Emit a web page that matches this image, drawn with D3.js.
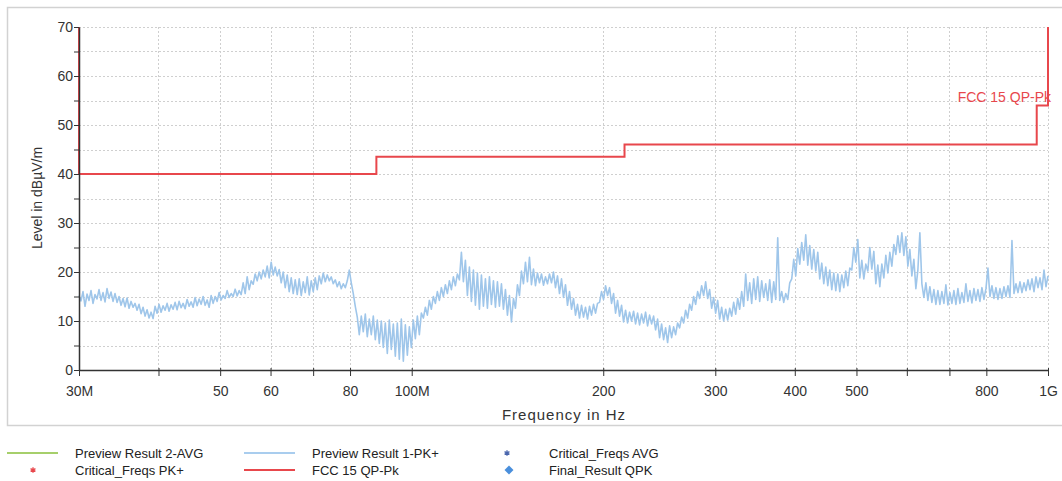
<!DOCTYPE html>
<html>
<head>
<meta charset="utf-8">
<script src="https://cdn.jsdelivr.net/npm/d3@7"></script>
<style>
  html, body { margin: 0; padding: 0; background: #fff; }
  svg { display: block; font-family: "Liberation Sans", Arial, sans-serif; }
</style>
</head>
<body>
<svg id="chart" width="1062" height="481"></svg>
<script>
// ---------------- DATA ----------------
const sweepStartHz = 30e6;
const sweepStopHz = 1e9;

// Preview Result 1-PK+ (dBµV/m), sweep points evenly spaced on the log frequency axis
const previewPkLevels = [
  15.2,14.1,16.0,13.0,15.5,14.2,16.2,13.6,15.4,14.5,
  16.4,14.2,15.8,13.9,16.6,14.6,15.9,14.0,15.6,13.8,
  15.0,13.2,14.6,12.9,14.7,12.6,14.0,12.8,13.6,12.2,
  13.4,11.5,12.8,11.0,12.3,10.6,11.8,10.5,13.0,11.6,
  13.4,11.8,13.1,12.2,13.6,12.0,13.3,12.4,13.8,12.3,
  14.0,12.7,13.6,12.5,14.4,13.0,13.9,12.8,14.8,13.1,
  14.5,13.4,15.0,13.2,14.3,12.8,15.2,13.6,15.0,14.0,
  15.8,14.3,15.2,14.6,16.2,14.8,15.6,15.0,16.5,15.1,
  16.2,15.4,17.8,15.6,19.0,16.4,18.2,17.5,19.6,18.2,
  20.0,18.6,20.4,19.0,21.2,18.8,22.0,19.4,21.0,19.2,
  20.5,17.8,20.0,16.8,19.4,16.0,18.8,15.6,18.4,15.4,
  18.6,15.2,18.0,15.8,19.0,15.3,18.2,16.0,18.8,16.4,
  19.2,17.6,19.8,18.0,19.4,18.2,19.0,17.6,18.4,17.0,
  18.0,16.6,17.6,16.8,18.2,20.4,17.8,15.6,13.0,10.8,
  7.2,11.0,7.8,11.4,6.8,10.4,7.2,11.0,6.2,10.2,
  5.4,10.0,4.6,9.6,3.4,10.2,4.2,9.4,2.8,9.6,
  2.2,10.4,1.8,9.2,3.0,8.8,4.6,10.2,6.4,11.0,
  7.2,11.6,10.6,12.8,11.2,14.2,12.4,15.0,13.6,16.0,
  14.2,16.8,15.0,17.4,15.6,18.2,16.4,19.0,17.2,19.6,
  18.4,24.0,18.0,22.4,15.2,21.0,14.0,20.4,13.2,19.8,
  12.4,19.4,13.0,18.6,12.6,19.0,13.4,18.2,12.8,18.0,
  13.0,17.6,12.4,16.4,11.2,15.2,9.8,14.6,12.6,17.4,
  15.2,20.2,17.6,22.0,18.0,23.0,17.4,20.6,17.2,19.8,
  17.8,19.6,17.3,19.0,17.6,19.6,17.8,20.0,16.8,19.2,
  15.6,18.6,14.8,17.4,13.2,16.0,12.4,14.6,11.2,13.4,
  10.6,13.2,10.8,12.8,10.4,13.0,11.2,13.4,11.6,13.6,
  13.8,16.0,14.4,17.2,15.2,16.8,13.6,15.6,11.6,14.2,
  11.0,13.2,9.8,12.2,9.6,11.8,10.0,12.0,9.4,11.6,
  9.2,11.4,9.6,11.8,9.0,11.2,9.4,11.0,8.2,10.4,
  6.6,9.4,6.2,8.6,5.6,9.0,6.6,8.8,7.2,9.6,
  8.6,10.8,9.6,12.2,10.6,13.4,12.2,15.0,13.4,16.0,
  14.6,17.2,15.2,18.0,14.6,16.4,12.6,14.8,11.6,14.2,
  10.4,12.8,10.0,12.4,10.2,12.6,11.0,13.8,11.4,14.6,
  12.4,16.0,13.0,19.6,14.2,17.8,13.6,18.6,14.4,19.0,
  14.0,18.2,14.8,17.6,14.2,18.4,13.8,18.0,14.4,27.0,
  14.2,16.0,13.8,15.6,14.4,17.8,18.6,22.6,19.2,24.8,
  21.6,26.0,22.4,27.6,21.4,25.4,20.6,24.6,20.2,24.0,
  18.6,21.8,17.6,21.0,17.2,20.4,16.4,19.8,16.2,19.6,
  16.0,19.4,16.8,20.2,17.2,20.8,20.4,25.0,22.0,26.6,
  18.8,22.4,18.6,21.6,20.2,25.0,20.6,24.2,17.6,21.4,
  17.0,21.6,18.8,23.4,19.8,24.0,21.2,25.6,23.6,27.4,
  24.0,28.0,23.4,27.2,21.2,24.6,19.2,22.6,16.6,20.4,
  28.0,17.6,14.8,17.8,14.2,17.0,13.8,16.4,13.4,16.2,
  13.4,16.0,13.6,17.4,13.3,15.8,13.6,16.2,13.4,16.6,
  13.6,15.8,13.8,17.6,14.0,16.2,13.7,16.6,14.2,16.4,
  14.0,16.8,14.4,16.6,20.8,15.0,17.2,14.6,16.8,14.4,
  16.6,14.6,17.0,15.0,17.2,14.8,26.4,15.6,17.6,15.8,
  18.0,15.8,17.8,16.2,18.4,16.4,18.6,16.0,19.0,16.8,
  18.8,16.4,20.4,17.0,19.2
];

// FCC 15 QP-Pk limit line
const limitFreqMHz = [30, 30, 88, 88, 216, 216, 960, 960, 1000, 1000];
const limitLevel   = [70, 40, 40, 43.5, 43.5, 46, 46, 54, 54, 70];

// Axes
const xTickMHz    = [30, 40, 50, 60, 70, 80, 100, 200, 300, 400, 500, 600, 700, 800, 1000];
const xTickLabels = ["30M", "", "50", "60", "", "80", "100M", "200", "300", "400", "500", "", "", "800", "1G"];
const yTicks      = [0, 5, 10, 15, 20, 25, 30, 35, 40, 45, 50, 55, 60, 65, 70];
const yTickLabels = ["0", "", "10", "", "20", "", "30", "", "40", "", "50", "", "60", "", "70"];

const legendItems = [
  { name: "Preview Result 2-AVG", kind: "line", color: "#a6cf6b" },
  { name: "Preview Result 1-PK+", kind: "line", color: "#a9cdee" },
  { name: "Critical_Freqs AVG",  kind: "star", color: "#4a66ad" },
  { name: "Critical_Freqs PK+",  kind: "star", color: "#e8474c" },
  { name: "FCC 15 QP-Pk",        kind: "line", color: "#e8474c" },
  { name: "Final_Result QPK",    kind: "diamond", color: "#4a8fdc" }
];

// ---------------- CHART ----------------
const svg = d3.select("#chart");
const plot = { left: 79, right: 1048, top: 27, bottom: 370 };

const x = d3.scaleLog().domain([sweepStartHz, sweepStopHz]).range([plot.left, plot.right]);
const y = d3.scaleLinear().domain([0, 70]).range([plot.bottom, plot.top]);

// outer frame
svg.append("rect")
  .attr("x", 7.5).attr("y", 7.5).attr("width", 1060).attr("height", 418)
  .attr("fill", "none").attr("stroke", "#d2d2d2").attr("stroke-width", 1.5);

// grid
const grid = svg.append("g");
grid.selectAll("line.h").data(yTicks.filter(d => d > 0)).join("line")
  .attr("x1", plot.left).attr("x2", plot.right)
  .attr("y1", d => Math.round(y(d)) + 0.5).attr("y2", d => Math.round(y(d)) + 0.5)
  .attr("stroke", "#cfcfcf").attr("stroke-dasharray", "2,2");
grid.selectAll("line.v").data(xTickMHz.filter(d => d > 30)).join("line")
  .attr("x1", d => Math.round(x(d * 1e6)) + 0.5).attr("x2", d => Math.round(x(d * 1e6)) + 0.5)
  .attr("y1", plot.top).attr("y2", plot.bottom)
  .attr("stroke", "#cfcfcf").attr("stroke-dasharray", "2,2");

// trace
const n = previewPkLevels.length;
const traceFreq = d3.range(n).map(i => x.invert(plot.left + (plot.right - plot.left) * i / (n - 1)));
const traceLine = d3.line().x((d, i) => x(traceFreq[i])).y(d => y(d));
svg.append("path").datum(previewPkLevels)
  .attr("d", traceLine)
  .attr("fill", "none").attr("stroke", "#9fc6ea").attr("stroke-width", 1.6)
  .attr("stroke-linejoin", "round");

// limit line
const limLine = d3.line().x(d => x(d * 1e6)).y((d, i) => y(limitLevel[i]));
svg.append("path").datum(limitFreqMHz)
  .attr("d", limLine)
  .attr("fill", "none").attr("stroke", "#e8474c").attr("stroke-width", 2);

svg.append("text")
  .attr("x", 1051).attr("y", 102)
  .attr("text-anchor", "end")
  .attr("font-size", 14).attr("fill", "#e8474c")
  .text("FCC 15 QP-Pk");

// axes
const xAxis = d3.axisBottom(x)
  .tickValues(xTickMHz.map(d => d * 1e6))
  .tickFormat((d, i) => xTickLabels[i])
  .tickSize(6).tickSizeOuter(0);
const gx = svg.append("g").attr("transform", `translate(0,${plot.bottom})`).call(xAxis);
gx.select(".domain").attr("stroke", "#333").attr("stroke-width", 1.5);
gx.selectAll(".tick line").attr("stroke", "#333").attr("y1", -2);
gx.selectAll(".tick text").attr("font-size", 14).attr("fill", "#333").attr("dy", "1.2em")
  .attr("font-family", "'Liberation Sans', Arial, sans-serif");

const yAxis = d3.axisLeft(y)
  .tickValues(yTicks)
  .tickFormat((d, i) => yTickLabels[i])
  .tickSize(5).tickSizeOuter(0);
const gy = svg.append("g").attr("transform", `translate(${plot.left},0)`).call(yAxis);
gy.select(".domain").attr("stroke", "#333").attr("stroke-width", 1.5);
gy.selectAll(".tick line").attr("stroke", "#333");
gy.selectAll(".tick text").attr("font-size", 14).attr("fill", "#333").attr("x", -6)
  .attr("font-family", "'Liberation Sans', Arial, sans-serif");

// axis titles
svg.append("text")
  .attr("x", 564).attr("y", 420)
  .attr("text-anchor", "middle").attr("font-size", 15).attr("fill", "#333")
  .attr("letter-spacing", "1px")
  .text("Frequency in Hz");
svg.append("text")
  .attr("transform", "translate(42,198) rotate(-90)")
  .attr("text-anchor", "middle").attr("font-size", 14).attr("fill", "#333")
  .text("Level in dBµV/m");

// legend
const colX = [7, 244, 481];
const rowY = [453, 470];
const lg = svg.append("g");
legendItems.forEach((item, idx) => {
  const col = idx % 3;
  const row = idx < 3 ? 0 : 1;
  const x0 = colX[col], yy = rowY[row];
  if (item.kind === "line") {
    lg.append("line").attr("x1", x0).attr("x2", x0 + 51).attr("y1", yy).attr("y2", yy)
      .attr("stroke", item.color).attr("stroke-width", 2);
  } else if (item.kind === "star") {
    lg.append("path").attr("d", d3.symbol(d3.symbolAsterisk, 22)())
      .attr("transform", `translate(${x0 + 26},${yy})`)
      .attr("stroke", item.color).attr("stroke-width", 1.3).attr("fill", item.color);
  } else {
    lg.append("path").attr("d", d3.symbol(d3.symbolSquare, 40)())
      .attr("transform", `translate(${x0 + 28},${yy}) rotate(45)`)
      .attr("fill", item.color);
  }
  lg.append("text").attr("x", x0 + 68).attr("y", yy + 5)
    .attr("font-size", 13).attr("fill", "#222").text(item.name);
});
</script>
</body>
</html>
